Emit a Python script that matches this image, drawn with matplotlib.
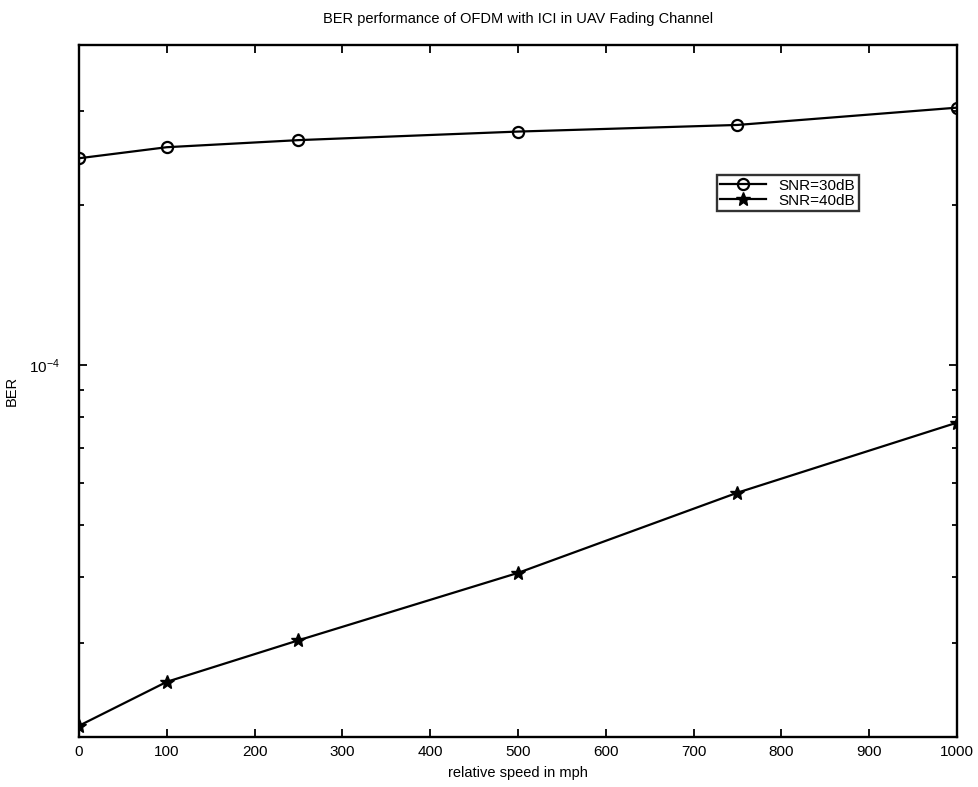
import numpy as np
import matplotlib
matplotlib.use('Agg')
import matplotlib.pyplot as plt
from matplotlib.ticker import LogLocator, NullFormatter, FixedLocator

speed = [0, 100, 250, 500, 750, 1000]
ber_30db = [2.45e-4, 2.57e-4, 2.65e-4, 2.75e-4, 2.83e-4, 3.05e-4]
ber_40db = [2.10e-5, 2.54e-5, 3.04e-5, 4.07e-5, 5.76e-5, 7.80e-5]

plt.rcParams['font.family'] = ['Liberation Sans', 'DejaVu Sans']

fig = plt.figure(figsize=(9.79, 7.87), dpi=100)
ax = fig.add_axes([0.0807, 0.0635, 0.8968, 0.8793])

ax.semilogy(speed, ber_30db, '-o', color='black', lw=1.6, markersize=8,
            markerfacecolor='none', markeredgewidth=1.6, label='SNR=30dB')
ax.semilogy(speed, ber_40db, '-*', color='black', lw=1.6, markersize=10,
            label='SNR=40dB')

ax.set_xlim(0, 1000)
ax.set_ylim(2e-5, 4e-4)
ax.set_xticks(range(0, 1001, 100))
ax.yaxis.set_major_locator(FixedLocator([1e-4]))
ax.yaxis.set_minor_locator(LogLocator(base=10, subs=np.arange(2, 10)))
ax.yaxis.set_minor_formatter(NullFormatter())

ax.tick_params(which='both', direction='in', top=True, right=True,
               labelsize=11, width=1.3)
ax.tick_params(axis='y', pad=14)
ax.tick_params(axis='x', pad=6)
ax.tick_params(which='major', length=6)
ax.tick_params(which='minor', length=3.5)
for s in ax.spines.values():
    s.set_linewidth(1.7)

ax.set_title('BER performance of OFDM with ICI in UAV Fading Channel',
             fontsize=10.5, pad=16)
ax.set_xlabel('relative speed in mph', fontsize=10.5, labelpad=5)
ax.set_ylabel('BER', fontsize=10.5, labelpad=7)

leg = ax.legend(loc='upper right', bbox_to_anchor=(859 / 979, 1 - 175 / 787),
                bbox_transform=fig.transFigure, fontsize=11, frameon=True,
                fancybox=False, edgecolor='black', borderpad=0.25,
                handlelength=3.0, handletextpad=0.8, labelspacing=0.05,
                borderaxespad=0)
leg.get_frame().set_linewidth(1.7)

fig.savefig('out.png', dpi=100)
